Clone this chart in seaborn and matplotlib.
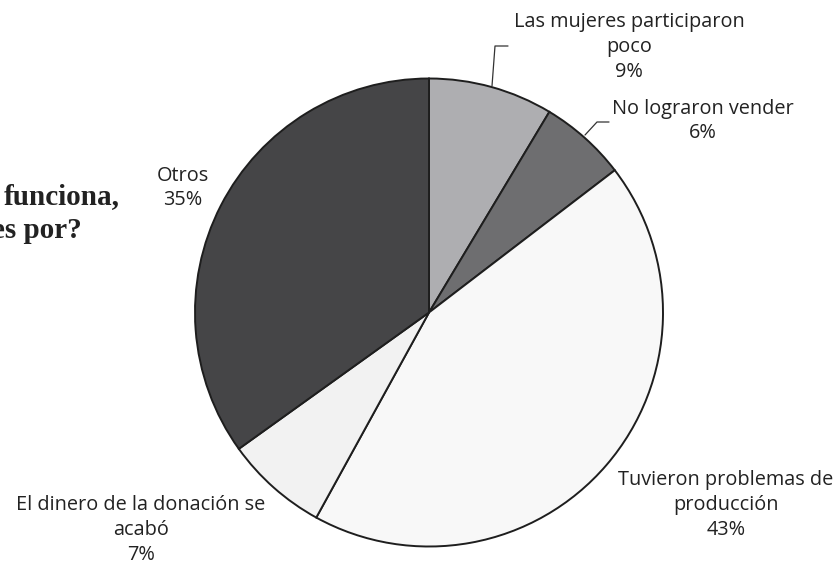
import matplotlib
matplotlib.use("Agg")
import matplotlib.pyplot as plt
import seaborn as sns

# Data
categories = [
    "Las mujeres participaron\npoco",
    "No lograron vender",
    "Tuvieron problemas de\nproducción",
    "El dinero de la donación se\nacabó",
    "Otros",
]
values = [8.6, 6.0, 43.4, 7.1, 34.9]
colors = ["#aeaeb1", "#6e6e70", "#f8f8f8", "#f2f2f2", "#454547"]

sns.set_theme(style="white")
plt.rcParams["font.family"] = ["Open Sans", "DejaVu Sans"]

W, H = 838, 566
fig = plt.figure(figsize=(W / 100, H / 100), dpi=100)
ax = fig.add_axes([0, 0, 1, 1])

cx, cy, r = 429, 312.5, 234
ax.pie(values, colors=colors, startangle=90, counterclock=False,
       center=(cx, H - cy), radius=r,
       wedgeprops=dict(edgecolor="#1e1e1e", linewidth=1.4))
ax.set_xlim(0, W)
ax.set_ylim(0, H)
ax.set_aspect("equal", adjustable="box")
ax.axis("off")

labels = [f"{c}\n{round(v)}%" for c, v in zip(categories, values)]
# label anchor positions (pixels, top-left origin) of the block centre
label_pos = [(629, 47), (703, 121), (726, 505), (141, 530), (183, 188)]
for lab, (x, y) in zip(labels, label_pos):
    ax.text(x, H - y, lab, ha="center", va="center", multialignment="center",
            fontsize=14.3, color="#222222", linespacing=1.33)

# leader lines
ax.plot([492, 495, 508], [H - 86, H - 46, H - 46], color="#333333", lw=0.9)
ax.plot([585, 597, 609], [H - 135, H - 122, H - 122], color="#333333", lw=0.9)

# cropped title fragments
ax.text(120, H - 197, "funciona,", ha="right", va="center", fontsize=21,
        fontweight="bold", family=["Liberation Serif", "DejaVu Serif"], color="#222222")
ax.text(82, H - 231, "es por?", ha="right", va="center", fontsize=21,
        fontweight="bold", family=["Liberation Serif", "DejaVu Serif"], color="#222222")

fig.savefig("out.png", dpi=100)
